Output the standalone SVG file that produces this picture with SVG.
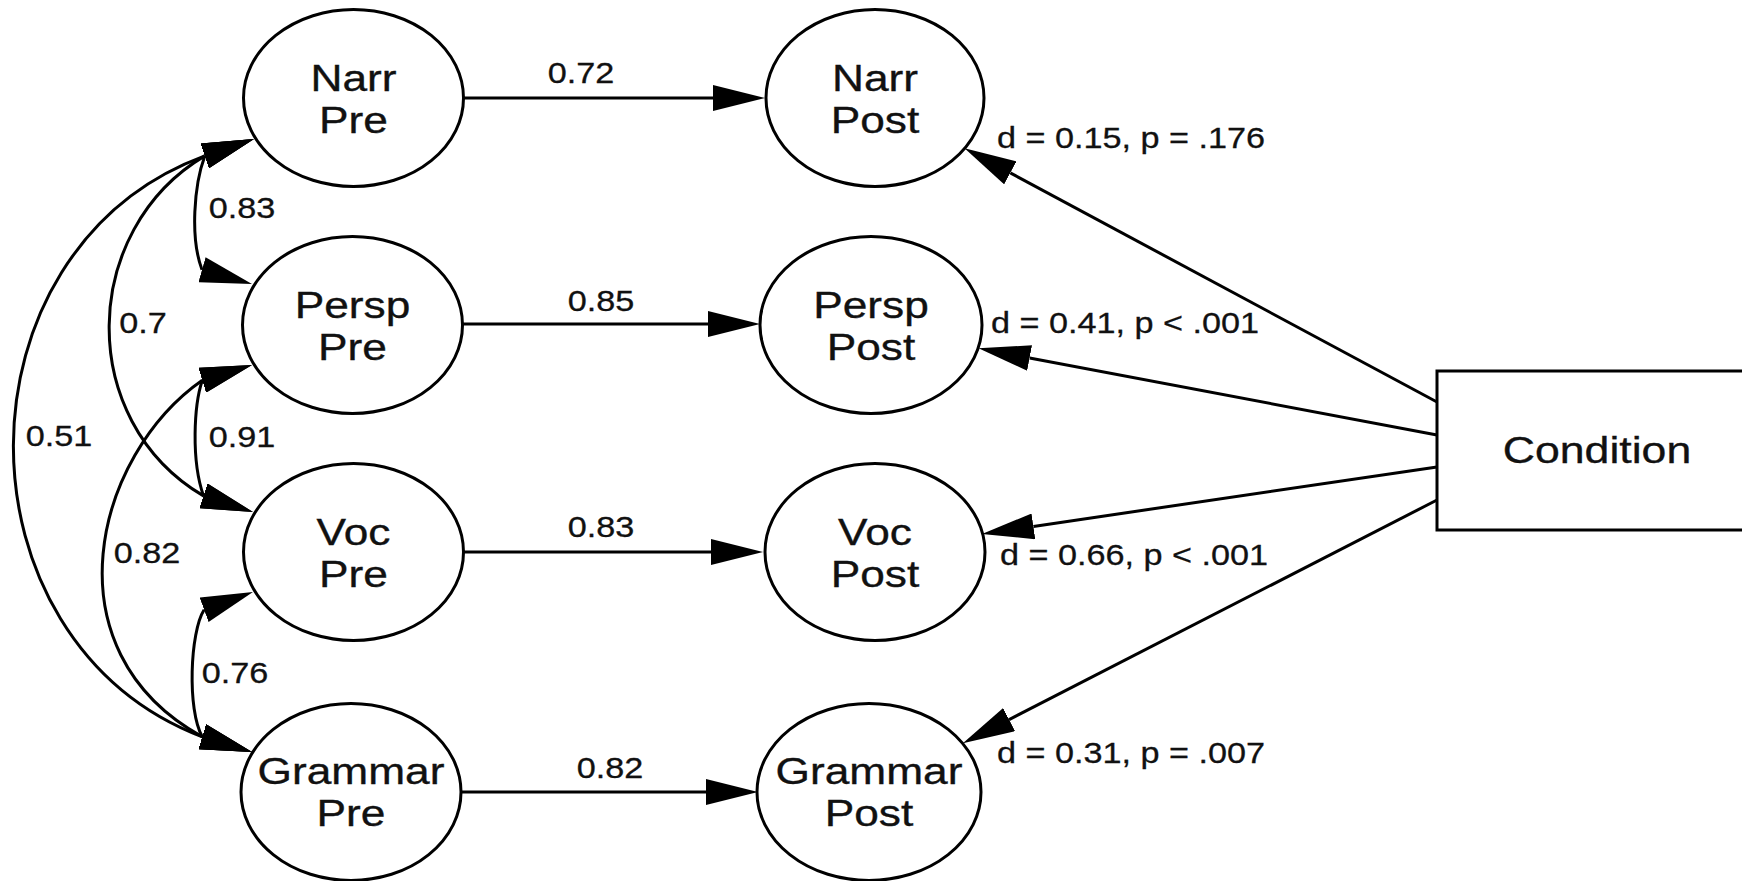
<svg xmlns="http://www.w3.org/2000/svg" width="1742" height="881" viewBox="0 0 1742 881">
<style>
  .node { fill: #ffffff; stroke: #000000; stroke-width: 3; }
  .edge { fill: none; stroke: #000000; stroke-width: 3; }
  .nl { font-family: "Liberation Sans", Arial, Helvetica, sans-serif; font-size: 37.5px; fill: #111111; stroke: #111111; stroke-width: 0.35; text-anchor: middle; }
  .el { font-family: "Liberation Sans", Arial, Helvetica, sans-serif; font-size: 29.5px; fill: #111111; stroke: #111111; stroke-width: 0.3; text-anchor: middle; }
  .ah { fill: #000000; stroke: none; }
</style>
<defs>
  <marker id="a" markerUnits="userSpaceOnUse" viewBox="0 -13 52 26" refX="0" refY="0" markerWidth="52" markerHeight="26" orient="auto"><path class="ah" d="M0,-13 L52,0 L0,13 z"/></marker>
  <marker id="aN" markerUnits="userSpaceOnUse" viewBox="0 -13 52 26" refX="0" refY="0" markerWidth="52" markerHeight="26" orient="-19"><path class="ah" d="M0,-13 L52,0 L0,13 z"/></marker>
  <marker id="aPu" markerUnits="userSpaceOnUse" viewBox="0 -13 52 26" refX="0" refY="0" markerWidth="52" markerHeight="26" orient="16"><path class="ah" d="M0,-13 L52,0 L0,13 z"/></marker>
  <marker id="aPl" markerUnits="userSpaceOnUse" viewBox="0 -13 52 26" refX="0" refY="0" markerWidth="52" markerHeight="26" orient="-17"><path class="ah" d="M0,-13 L52,0 L0,13 z"/></marker>
  <marker id="aVu" markerUnits="userSpaceOnUse" viewBox="0 -13 52 26" refX="0" refY="0" markerWidth="52" markerHeight="26" orient="18"><path class="ah" d="M0,-13 L52,0 L0,13 z"/></marker>
  <marker id="aVl" markerUnits="userSpaceOnUse" viewBox="0 -13 52 26" refX="0" refY="0" markerWidth="52" markerHeight="26" orient="-20"><path class="ah" d="M0,-13 L52,0 L0,13 z"/></marker>
  <marker id="aGu" markerUnits="userSpaceOnUse" viewBox="0 -13 52 26" refX="0" refY="0" markerWidth="52" markerHeight="26" orient="17"><path class="ah" d="M0,-13 L52,0 L0,13 z"/></marker>
</defs>
<rect x="0" y="0" width="1742" height="881" fill="#ffffff"/>

<g id="connectors">
  <!-- regressions pre -> post -->
  <path class="edge" d="M464,98 H713" marker-end="url(#a)"/>
  <path class="edge" d="M463,324 H708" marker-end="url(#a)"/>
  <path class="edge" d="M464,552 H711" marker-end="url(#a)"/>
  <path class="edge" d="M462,792 H706" marker-end="url(#a)"/>
  <!-- condition effects -->
  <path class="edge" d="M1437,402 L1010.3,172.9" marker-end="url(#a)"/>
  <path class="edge" d="M1437,435 L1029.6,358" marker-end="url(#a)"/>
  <path class="edge" d="M1437,467 L1033.4,526.4" marker-end="url(#a)"/>
  <path class="edge" d="M1437,500 L1009.1,719.6" marker-end="url(#a)"/>
  <!-- covariances among pre measures -->
  <path class="edge" d="M204.8,155.9 C194,185 190,238 202,269.7" marker-start="url(#aN)" marker-end="url(#aPu)"/>
  <path class="edge" d="M204.8,155.9 C80,230 75,420 203.5,495.9" marker-start="url(#aN)" marker-end="url(#aVu)"/>
  <path class="edge" d="M204.8,155.9 C-50,250 -50,640 202.3,736.8" marker-start="url(#aN)" marker-end="url(#aGu)"/>
  <path class="edge" d="M202.3,380.2 C194,405 191,460 203.5,495.9" marker-start="url(#aPl)" marker-end="url(#aVu)"/>
  <path class="edge" d="M202.3,380.2 C95,455 45,650 202.3,736.8" marker-start="url(#aPl)" marker-end="url(#aGu)"/>
  <path class="edge" d="M204.1,609.8 C190,632 187,710 202.3,736.8" marker-start="url(#aVl)" marker-end="url(#aGu)"/>
  <!-- edge labels -->
  <text class="el" transform="translate(581,83) scale(1.16,1)">0.72</text>
  <text class="el" transform="translate(601,311) scale(1.16,1)">0.85</text>
  <text class="el" transform="translate(601,537) scale(1.16,1)">0.83</text>
  <text class="el" transform="translate(610,778) scale(1.16,1)">0.82</text>
  <text class="el" transform="translate(242,218) scale(1.16,1)">0.83</text>
  <text class="el" transform="translate(143,333) scale(1.16,1)">0.7</text>
  <text class="el" transform="translate(59,446) scale(1.16,1)">0.51</text>
  <text class="el" transform="translate(242,447) scale(1.16,1)">0.91</text>
  <text class="el" transform="translate(147,563) scale(1.16,1)">0.82</text>
  <text class="el" transform="translate(235,683) scale(1.16,1)">0.76</text>
  <text class="el" transform="translate(1131,148) scale(1.16,1)">d = 0.15, p = .176</text>
  <text class="el" transform="translate(1125,333) scale(1.16,1)">d = 0.41, p &lt; .001</text>
  <text class="el" transform="translate(1134,565) scale(1.16,1)">d = 0.66, p &lt; .001</text>
  <text class="el" transform="translate(1131,763) scale(1.16,1)">d = 0.31, p = .007</text>
</g>

<g id="narr-pre">
  <ellipse class="node" cx="353.5" cy="98" rx="110" ry="88.5"/>
  <text class="nl" transform="translate(353.5,91) scale(1.18,1)"><tspan x="0" y="0">Narr</tspan><tspan x="0" y="42">Pre</tspan></text>
</g>
<g id="persp-pre">
  <ellipse class="node" cx="352.5" cy="325" rx="110" ry="88.5"/>
  <text class="nl" transform="translate(352.5,318) scale(1.18,1)"><tspan x="0" y="0">Persp</tspan><tspan x="0" y="42">Pre</tspan></text>
</g>
<g id="voc-pre">
  <ellipse class="node" cx="353.5" cy="552" rx="110" ry="88.5"/>
  <text class="nl" transform="translate(353.5,545) scale(1.18,1)"><tspan x="0" y="0">Voc</tspan><tspan x="0" y="42">Pre</tspan></text>
</g>
<g id="grammar-pre">
  <ellipse class="node" cx="351" cy="792" rx="110" ry="88.5"/>
  <text class="nl" transform="translate(351,784) scale(1.18,1)"><tspan x="0" y="0">Grammar</tspan><tspan x="0" y="42">Pre</tspan></text>
</g>

<g id="narr-post">
  <ellipse class="node" cx="875" cy="98" rx="109" ry="88.5"/>
  <text class="nl" transform="translate(875,91) scale(1.18,1)"><tspan x="0" y="0">Narr</tspan><tspan x="0" y="42">Post</tspan></text>
</g>
<g id="persp-post">
  <ellipse class="node" cx="871" cy="325" rx="111" ry="88.5"/>
  <text class="nl" transform="translate(871,318) scale(1.18,1)"><tspan x="0" y="0">Persp</tspan><tspan x="0" y="42">Post</tspan></text>
</g>
<g id="voc-post">
  <ellipse class="node" cx="875" cy="552" rx="110" ry="88.5"/>
  <text class="nl" transform="translate(875,545) scale(1.18,1)"><tspan x="0" y="0">Voc</tspan><tspan x="0" y="42">Post</tspan></text>
</g>
<g id="grammar-post">
  <ellipse class="node" cx="869" cy="792" rx="112" ry="88.5"/>
  <text class="nl" transform="translate(869,784) scale(1.18,1)"><tspan x="0" y="0">Grammar</tspan><tspan x="0" y="42">Post</tspan></text>
</g>

<g id="condition">
  <rect class="node" x="1437" y="371" width="330" height="159"/>
  <text class="nl" transform="translate(1597,463) scale(1.19,1)">Condition</text>
</g>
</svg>
